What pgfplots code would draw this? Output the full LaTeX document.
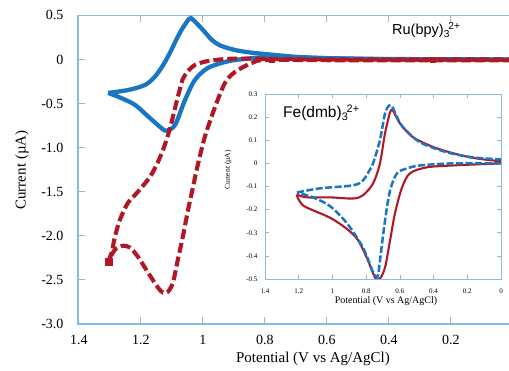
\documentclass[border=0pt]{standalone}
\usepackage{fontspec}
\setmainfont{Liberation Serif}
\newfontfamily\sansf{Liberation Sans}
\usepackage{pgfplots}
\pgfplotsset{compat=1.18}
\definecolor{cvblue}{RGB}{24,118,194}
\definecolor{cvred}{RGB}{175,25,38}
\definecolor{axblue}{RGB}{135,188,230}
\begin{document}
\begin{tikzpicture}
\begin{axis}[
  name=main, scale only axis, width=435pt, height=308.6pt,
  x dir=reverse, xmin=0, xmax=1.4032, ymin=-3, ymax=0.5,
  axis line style={axblue, line width=1.2pt},
  tick style={axblue, line width=1pt},
  tick align=inside, major tick length=7pt,
  xtick={1.4,1.2,1,0.8,0.6,0.4,0.2}, xticklabels={1.4,1.2,1,0.8,0.6,0.4,0.2},
  ytick={-3,-2.5,-2,-1.5,-1,-0.5,0,0.5},
  yticklabels={-3.0,-2.5,-2.0,-1.5,-1.0,-0.5,0,0.5},
  ytick pos=left, xtick pos=both,
  ticklabel style={font=\fontsize{14}{14}\selectfont},
  yticklabel style={xshift=-11pt}, xticklabel style={yshift=-8pt},
]
% Ru blue solid
\addplot[cvblue, line width=4.3pt, smooth, tension=0.5] coordinates {
(0.0,0.0)(0.3,0.0)(0.55,0.01)(0.7,0.025)(0.78,0.03)(0.855,0.01)(0.919,-0.02)(0.984,-0.096)(1.026,-0.232)(1.058,-0.459)(1.090,-0.742)(1.117,-0.807)(1.133,-0.781)(1.176,-0.649)(1.219,-0.516)(1.262,-0.44)(1.306,-0.379)};
\addplot[cvblue, line width=4.3pt, smooth, tension=0.5] coordinates {
(1.306,-0.379)(1.241,-0.346)(1.187,-0.289)(1.155,-0.195)(1.128,-0.06)(1.106,0.08)(1.075,0.30)(1.045,0.46)(1.032,0.45)(1.0,0.334)(0.971,0.221)(0.945,0.160)(0.90,0.11)(0.85,0.08)(0.78,0.055)(0.7,0.03)(0.6,0.015)(0.4,0.005)(0.0,0.0)};
% red dashed
\addplot[cvred, line width=4.1pt, smooth, tension=0.5, dash pattern=on 10pt off 4pt] coordinates {
(0.0,-0.01)(0.5,-0.01)(0.790,-0.006)(0.842,-0.04)(0.897,-0.142)(0.929,-0.266)(0.961,-0.538)(0.994,-0.878)(1.019,-1.229)(1.032,-1.444)(1.048,-1.704)(1.065,-2.010)(1.081,-2.27)(1.097,-2.531)(1.113,-2.633)(1.129,-2.644)(1.145,-2.588)(1.177,-2.418)(1.210,-2.237)(1.235,-2.135)(1.258,-2.112)(1.284,-2.157)(1.306,-2.293)};
\addplot[cvred, line width=4.1pt, smooth, tension=0.5, dash pattern=on 10pt off 4pt] coordinates {
(1.306,-2.293)(1.294,-2.180)(1.284,-2.010)(1.268,-1.818)(1.242,-1.625)(1.210,-1.501)(1.171,-1.331)(1.145,-1.161)(1.123,-0.968)(1.106,-0.776)(1.090,-0.549)(1.077,-0.368)(1.065,-0.221)(1.048,-0.13)(1.026,-0.062)(1.0,-0.03)(0.961,-0.006)(0.881,0.01)(0.6,0.0)(0.0,0.0)};
\addplot[cvred, only marks, mark=square*, mark size=3.5pt] coordinates {(1.303,-2.29)};
\addplot[cvred, only marks, mark=square*, mark size=2.5pt] coordinates {(0.777,-0.005)(0.258,0.0)};
\end{axis}
\begin{axis}[
  at={(187pt,45pt)}, anchor=south west,
  scale only axis, width=236pt, height=185pt,
  x dir=reverse, xmin=0, xmax=1.4, ymin=-0.5, ymax=0.3,
  axis background/.style={fill=white},
  axis line style={axblue, line width=0.8pt},
  tick style={axblue, line width=0.6pt},
  tick align=inside, major tick length=4pt,
  xtick={0,0.2,0.4,0.6,0.8,1,1.2,1.4}, xticklabels={0,0.2,0.4,0.6,0.8,1,1.2,1.4},
  ytick={-0.5,-0.4,-0.3,-0.2,-0.1,0,0.1,0.2,0.3},
  yticklabels={-0.5,-0.4,-0.3,-0.2,-0.1,0,0.1,0.2,0.3},
  ticklabel style={font=\fontsize{7}{7}\selectfont},
  yticklabel style={xshift=-4pt}, xticklabel style={yshift=-6pt},
]
% red solid
\addplot[cvred, line width=2.1pt, smooth, tension=0.5] coordinates {
(0.0,0.0)(0.285,-0.009)(0.439,-0.017)(0.540,-0.043)(0.587,-0.104)(0.629,-0.216)(0.658,-0.333)(0.688,-0.45)(0.718,-0.498)(0.747,-0.494)(0.795,-0.41)(0.850,-0.33)(0.920,-0.28)(1.014,-0.235)(1.115,-0.203)(1.174,-0.182)(1.204,-0.152)(1.212,-0.135)};
\addplot[cvred, line width=2.1pt, smooth, tension=0.5] coordinates {
(1.212,-0.135)(1.151,-0.147)(1.014,-0.147)(0.878,-0.152)(0.819,-0.138)(0.759,-0.087)(0.718,0.0)(0.688,0.13)(0.658,0.221)(0.643,0.229)(0.620,0.2)(0.599,0.173)(0.522,0.113)(0.380,0.065)(0.184,0.026)(0.0,0.009)};
% blue dashed
\addplot[cvblue, line width=2.5pt, smooth, tension=0.5, dash pattern=on 7pt off 2.5pt] coordinates {
(0.0,0.0)(0.285,0.0)(0.48,-0.009)(0.558,-0.022)(0.617,-0.043)(0.658,-0.117)(0.688,-0.247)(0.718,-0.42)(0.732,-0.49)(0.759,-0.47)(0.819,-0.364)(0.913,-0.26)(1.014,-0.185)(1.115,-0.147)(1.21,-0.126)};
\addplot[cvblue, line width=2.5pt, smooth, tension=0.5, dash pattern=on 7pt off 2.5pt] coordinates {
(1.21,-0.126)(1.074,-0.108)(0.878,-0.095)(0.819,-0.074)(0.78,-0.03)(0.759,0.0)(0.718,0.1)(0.688,0.216)(0.664,0.25)(0.645,0.245)(0.617,0.2)(0.581,0.156)(0.480,0.091)(0.320,0.048)(0.166,0.026)(0.0,0.017)};
\end{axis}
\node[rotate=90, font=\fontsize{15}{15}\selectfont] at (-56pt,154pt) {Current (µA)};
\node[font=\fontsize{15}{15}\selectfont] at (235pt,-35pt) {Potential (V vs Ag/AgCl)};
\node[rotate=90, font=\fontsize{7.5}{7.5}\selectfont] at (150pt,154pt) {Current (µA)};
\node[font=\fontsize{10}{10}\selectfont] at (308pt,23pt) {Potential (V vs Ag/AgCl)};
\node[anchor=base west, inner sep=0pt, font=\sansf\fontsize{14.5}{14.5}\selectfont] at (314pt,289pt) {Ru(bpy)\textsubscript{3}\kern-0.1em\textsuperscript{2+}};
\node[anchor=base west, inner sep=0pt, font=\sansf\fontsize{15.5}{15.5}\selectfont] at (205pt,206pt) {Fe(dmb)\textsubscript{3}\kern-0.1em\textsuperscript{2+}};
\pgfresetboundingbox
\path (-78pt,-47pt) rectangle (431pt,324pt);
\end{tikzpicture}
\end{document}
